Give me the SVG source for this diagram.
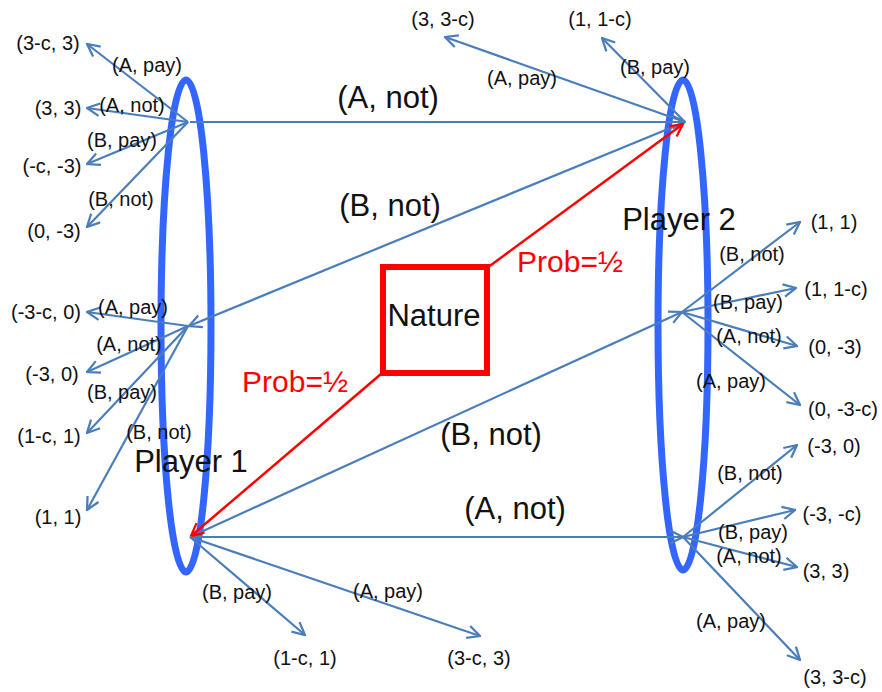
<svg xmlns="http://www.w3.org/2000/svg" width="882" height="692" viewBox="0 0 882 692">
  <defs>
    <style>
      .ell { fill: none; stroke: #3366ff; stroke-width: 7; }
      .edge { fill: none; stroke: #4a7ebb; stroke-width: 2.2; marker-end: url(#arrB); }
      .redge { fill: none; stroke: #ff0000; stroke-width: 2.5; marker-end: url(#arrR); }
      .sm { font-family: "Liberation Sans", Arial, sans-serif; font-size: 20px; fill: #111; text-anchor: middle; }
      .lg { font-family: "Liberation Sans", Arial, sans-serif; font-size: 31px; fill: #111; text-anchor: middle; }
      .red { font-family: "Liberation Sans", Arial, sans-serif; font-size: 30px; fill: #ff0000; text-anchor: middle; }
    </style>
    <marker id="arrB" viewBox="0 0 12 12" refX="11" refY="6" markerWidth="15" markerHeight="15" markerUnits="userSpaceOnUse" orient="auto">
      <path d="M1,1 L11,6 L1,11" fill="none" stroke="#4a7ebb" stroke-width="1.8"/>
    </marker>
    <marker id="arrR" viewBox="0 0 12 12" refX="11" refY="6" markerWidth="15" markerHeight="15" markerUnits="userSpaceOnUse" orient="auto">
      <path d="M1,1 L11,6 L1,11" fill="none" stroke="#ff0000" stroke-width="1.8"/>
    </marker>
  </defs>
  <rect width="882" height="692" fill="#ffffff"/>

  <g id="player1">
    <ellipse class="ell" cx="186" cy="326" rx="25" ry="246"/>
    <text class="lg" x="191" y="472">Player 1</text>
  </g>
  <g id="player2">
    <ellipse class="ell" cx="683" cy="325" rx="25" ry="245"/>
    <text class="lg" x="679" y="230">Player 2</text>
  </g>
  <g id="nature">
    <rect x="383" y="267" width="104" height="106" fill="#ffffff" stroke="#ff0000" stroke-width="6"/>
    <text class="lg" x="434" y="326">Nature</text>
  </g>

  <g id="connectors">
    <!-- main moves -->
    <line class="edge" x1="190" y1="122" x2="685" y2="122"/>
    <line class="edge" x1="685" y1="122" x2="189" y2="326"/>
    <line class="edge" x1="190" y1="537" x2="682" y2="312"/>
    <line class="edge" x1="190" y1="537" x2="683" y2="537"/>
    <line class="redge" x1="487" y1="268" x2="683" y2="124"/>
    <line class="redge" x1="381" y1="374" x2="191" y2="536"/>
    <!-- P1 top outcomes -->
    <line class="edge" x1="188" y1="122" x2="87" y2="44"/>
    <line class="edge" x1="188" y1="122" x2="87" y2="108"/>
    <line class="edge" x1="188" y1="122" x2="87" y2="164"/>
    <line class="edge" x1="188" y1="122" x2="87" y2="227"/>
    <!-- P1 middle outcomes -->
    <line class="edge" x1="188" y1="326" x2="87" y2="312"/>
    <line class="edge" x1="188" y1="326" x2="87" y2="372"/>
    <line class="edge" x1="188" y1="326" x2="87" y2="433"/>
    <line class="edge" x1="188" y1="326" x2="87" y2="510"/>
    <!-- P1 bottom outcomes -->
    <line class="edge" x1="190" y1="537" x2="305" y2="635"/>
    <line class="edge" x1="190" y1="537" x2="480" y2="636"/>
    <!-- P2 top outcomes -->
    <line class="edge" x1="685" y1="122" x2="445" y2="37"/>
    <line class="edge" x1="685" y1="122" x2="602" y2="38"/>
    <!-- P2 middle outcomes -->
    <line class="edge" x1="682" y1="312" x2="800" y2="222"/>
    <line class="edge" x1="682" y1="312" x2="796" y2="288"/>
    <line class="edge" x1="682" y1="312" x2="797" y2="346"/>
    <line class="edge" x1="682" y1="312" x2="800" y2="405"/>
    <!-- P2 bottom outcomes -->
    <line class="edge" x1="683" y1="537" x2="797" y2="445"/>
    <line class="edge" x1="683" y1="537" x2="795" y2="510"/>
    <line class="edge" x1="683" y1="537" x2="797" y2="567"/>
    <line class="edge" x1="683" y1="537" x2="800" y2="660"/>
  </g>

  <g id="labels">
    <text class="lg" x="388" y="108">(A, not)</text>
    <text class="lg" x="390" y="216">(B, not)</text>
    <text class="lg" x="491" y="445">(B, not)</text>
    <text class="lg" x="515" y="519">(A, not)</text>
    <text class="red" x="570" y="272">Prob=½</text>
    <text class="red" x="295" y="392">Prob=½</text>

    <text class="sm" x="48" y="50">(3-c, 3)</text>
    <text class="sm" x="147" y="72">(A, pay)</text>
    <text class="sm" x="58" y="115">(3, 3)</text>
    <text class="sm" x="132" y="112">(A, not)</text>
    <text class="sm" x="122" y="147">(B, pay)</text>
    <text class="sm" x="52" y="173">(-c, -3)</text>
    <text class="sm" x="121" y="206">(B, not)</text>
    <text class="sm" x="54" y="238">(0, -3)</text>

    <text class="sm" x="46" y="319">(-3-c, 0)</text>
    <text class="sm" x="133" y="314">(A, pay)</text>
    <text class="sm" x="129" y="351">(A, not)</text>
    <text class="sm" x="52" y="381">(-3, 0)</text>
    <text class="sm" x="122" y="399">(B, pay)</text>
    <text class="sm" x="49" y="443">(1-c, 1)</text>
    <text class="sm" x="159" y="439">(B, not)</text>
    <text class="sm" x="58" y="524">(1, 1)</text>

    <text class="sm" x="237" y="599">(B, pay)</text>
    <text class="sm" x="388" y="598">(A, pay)</text>
    <text class="sm" x="305" y="665">(1-c, 1)</text>
    <text class="sm" x="479" y="665">(3-c, 3)</text>

    <text class="sm" x="443" y="26">(3, 3-c)</text>
    <text class="sm" x="600" y="26">(1, 1-c)</text>
    <text class="sm" x="522" y="85">(A, pay)</text>
    <text class="sm" x="655" y="74">(B, pay)</text>

    <text class="sm" x="834" y="229">(1, 1)</text>
    <text class="sm" x="752" y="261">(B, not)</text>
    <text class="sm" x="836" y="296">(1, 1-c)</text>
    <text class="sm" x="748" y="309">(B, pay)</text>
    <text class="sm" x="749" y="343">(A, not)</text>
    <text class="sm" x="835" y="354">(0, -3)</text>
    <text class="sm" x="731" y="388">(A, pay)</text>
    <text class="sm" x="843" y="416">(0, -3-c)</text>

    <text class="sm" x="834" y="453">(-3, 0)</text>
    <text class="sm" x="750" y="480">(B, not)</text>
    <text class="sm" x="832" y="521">(-3, -c)</text>
    <text class="sm" x="753" y="539">(B, pay)</text>
    <text class="sm" x="749" y="563">(A, not)</text>
    <text class="sm" x="826" y="578">(3, 3)</text>
    <text class="sm" x="731" y="628">(A, pay)</text>
    <text class="sm" x="835" y="684">(3, 3-c)</text>
  </g>
</svg>
